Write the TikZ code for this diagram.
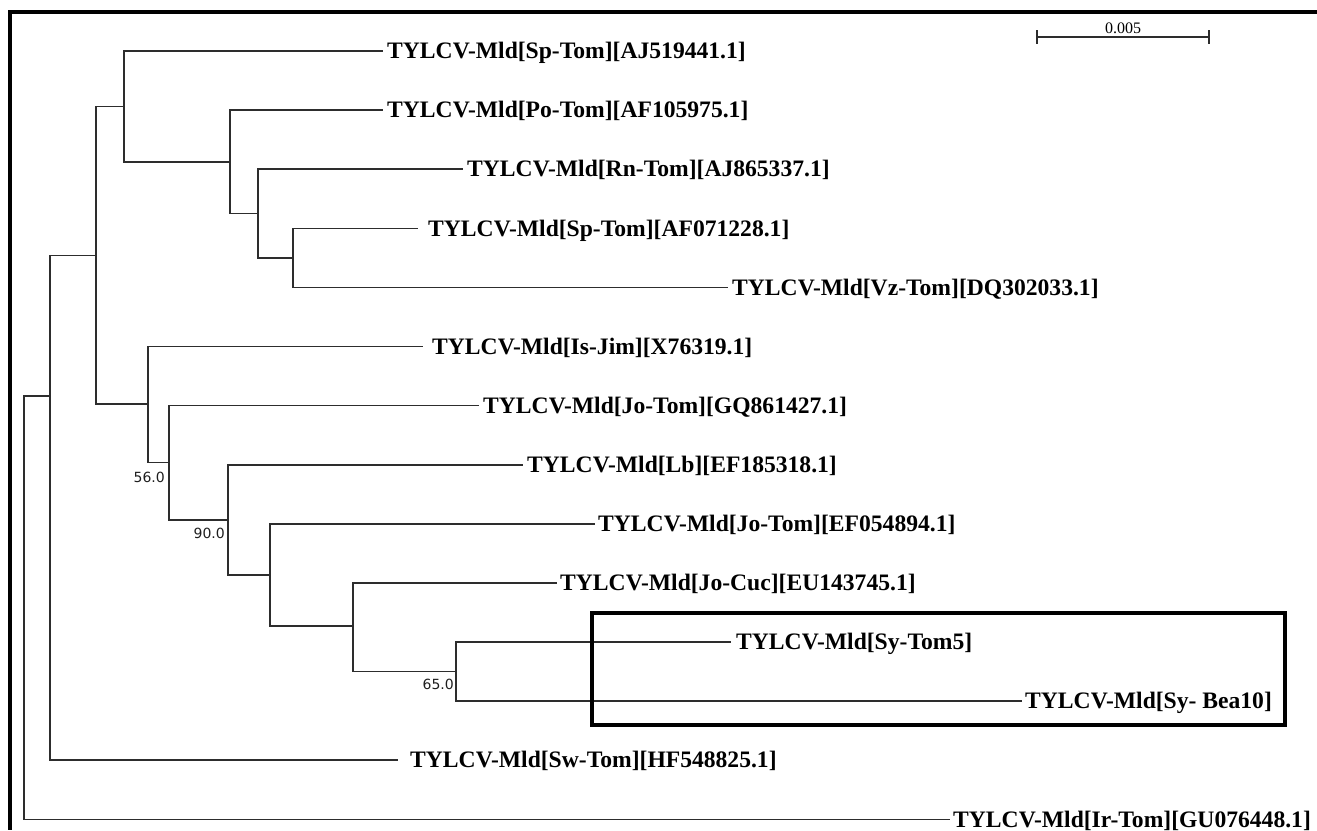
\documentclass[tikz,border=0pt]{standalone}
\usepackage{fontspec}
\setmainfont{Liberation Serif}
\newfontfamily\bsfont{DejaVu Sans}
\definecolor{branch}{RGB}{45,45,45}
\definecolor{boottxt}{RGB}{30,30,30}
\begin{document}
\begin{tikzpicture}[x=1pt,y=-1pt,
  br/.style={line width=1.6pt, draw=branch},
  lab/.style={anchor=base west, inner sep=0pt, yshift=-7.7pt, font=\fontsize{23.6}{26}\selectfont\bfseries},
  boot/.style={anchor=base east, inner sep=0pt, text=boottxt, font=\bsfont\fontsize{14}{16}\selectfont},
  frame/.style={line width=4pt, draw=black},
  hbox/.style={line width=4pt, draw=black}
  ]
\useasboundingbox (0,0) rectangle (1317,830);
% frame
\draw[frame] (10,12) -- (1317,12);
\draw[frame] (10,10) -- (10,830);
% internal nodes
\coordinate (root) at (24,607.6);
\coordinate (A) at (50,396);
\coordinate (B) at (96,255.5);
\coordinate (C) at (124,106.5);
\coordinate (E) at (230,162);
\coordinate (F) at (258,213.5);
\coordinate (G) at (293,258);
\coordinate (D) at (148,404);
\coordinate (H) at (169,462.5);
\coordinate (I) at (228,520);
\coordinate (J) at (270,575);
\coordinate (K) at (353,626);
\coordinate (L) at (456,671.5);
% tips
\coordinate (tSpAJ) at (383,51);
\coordinate (tPo) at (383,110.1);
\coordinate (tRn) at (463,169.2);
\coordinate (tSpAF) at (418,228.3);
\coordinate (tVz) at (728,287.4);
\coordinate (tIs) at (423,346.5);
\coordinate (tJoGQ) at (479,405.6);
\coordinate (tLb) at (523,464.7);
\coordinate (tJoEF) at (595,523.8);
\coordinate (tJoCuc) at (557,582.9);
\coordinate (tSyT) at (731,642);
\coordinate (tSyB) at (1022,701.1);
\coordinate (tSw) at (398,760.2);
\coordinate (tIr) at (950,819.3);
% labels
\node[lab] (lSpAJ) at (387,51) {TYLCV-Mld[Sp-Tom][AJ519441.1]};
\node[lab] (lPo) at (387,110.1) {TYLCV-Mld[Po-Tom][AF105975.1]};
\node[lab] (lRn) at (467,169.2) {TYLCV-Mld[Rn-Tom][AJ865337.1]};
\node[lab] (lSpAF) at (428,228.3) {TYLCV-Mld[Sp-Tom][AF071228.1]};
\node[lab] (lVz) at (732,287.4) {TYLCV-Mld[Vz-Tom][DQ302033.1]};
\node[lab] (lIs) at (432,346.5) {TYLCV-Mld[Is-Jim][X76319.1]};
\node[lab] (lJoGQ) at (483,405.6) {TYLCV-Mld[Jo-Tom][GQ861427.1]};
\node[lab] (lLb) at (527,464.7) {TYLCV-Mld[Lb][EF185318.1]};
\node[lab] (lJoEF) at (598,523.8) {TYLCV-Mld[Jo-Tom][EF054894.1]};
\node[lab] (lJoCuc) at (560,582.9) {TYLCV-Mld[Jo-Cuc][EU143745.1]};
\node[lab] (lSyT) at (736,642) {TYLCV-Mld[Sy-Tom5]};
\node[lab] (lSyB) at (1025,701.1) {TYLCV-Mld[Sy- Bea10]};
\node[lab] (lSw) at (410,760.2) {TYLCV-Mld[Sw-Tom][HF548825.1]};
\node[lab] (lIr) at (953,819.3) {TYLCV-Mld[Ir-Tom][GU076448.1]};
% branches
\draw[br] (root) |- (A);
\draw[br] (root) |- (tIr);
\draw[br] (A) |- (B);
\draw[br] (A) |- (tSw);
\draw[br] (B) |- (C);
\draw[br] (B) |- (D);
\draw[br] (C) |- (tSpAJ);
\draw[br] (C) |- (E);
\draw[br] (E) |- (tPo);
\draw[br] (E) |- (F);
\draw[br] (F) |- (tRn);
\draw[br] (F) |- (G);
\draw[br] (G) |- (tSpAF);
\draw[br] (G) |- (tVz);
\draw[br] (D) |- (tIs);
\draw[br] (D) |- (H);
\draw[br] (H) |- (tJoGQ);
\draw[br] (H) |- (I);
\draw[br] (I) |- (tLb);
\draw[br] (I) |- (J);
\draw[br] (J) |- (tJoEF);
\draw[br] (J) |- (K);
\draw[br] (K) |- (tJoCuc);
\draw[br] (K) |- (L);
\draw[br] (L) |- (tSyT);
\draw[br] (L) |- (tSyB);
% bootstrap values
\node[boot] (b56) at (165,482) {56.0};
\node[boot] (b90) at (225,538) {90.0};
\node[boot] (b65) at (454,689) {65.0};
% highlight box
\draw[hbox] (592,613) rectangle (1285,725);
% scale bar
\coordinate (s1) at (1037,37);
\coordinate (s2) at (1209,37);
\draw[br] (s1) -- (s2);
\draw[br] ([yshift=7pt]s1) -- ([yshift=-7pt]s1);
\draw[br] ([yshift=7pt]s2) -- ([yshift=-7pt]s2);
\node[anchor=base, inner sep=0pt, font=\fontsize{16}{18}\selectfont] (sl) at (1123,33.5) {0.005};
\end{tikzpicture}
\end{document}
